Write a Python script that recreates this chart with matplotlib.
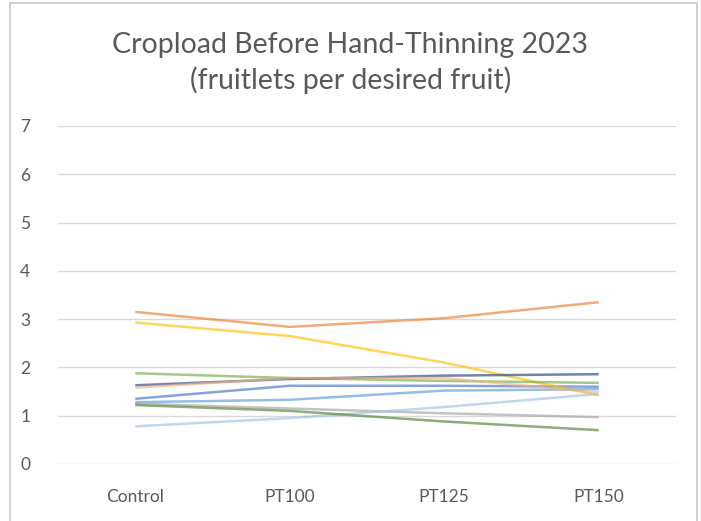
import matplotlib
matplotlib.use("Agg")
import matplotlib.pyplot as plt
from matplotlib.patches import Rectangle

plt.rcParams['font.family'] = ['Lato', 'DejaVu Sans']

categories = ["Control", "PT100", "PT125", "PT150"]

s_blue = [1.35, 1.62, 1.62, 1.60]
s_orange = [3.15, 2.84, 3.02, 3.35]
s_gray = [1.25, 1.15, 1.05, 0.97]
s_gold = [2.93, 2.65, 2.10, 1.42]
s_lightblue = [1.28, 1.33, 1.52, 1.55]
s_green = [1.88, 1.78, 1.72, 1.68]
s_darkblue = [1.63, 1.76, 1.83, 1.86]
s_peach = [1.58, 1.78, 1.78, 1.48]
s_paleblue = [0.78, 0.95, 1.18, 1.45]
s_green2 = [1.22, 1.10, 0.88, 0.70]

series = [
    (s_blue, "#4472C4"),
    (s_orange, "#ED7D31"),
    (s_gray, "#A5A5A5"),
    (s_gold, "#FFC000"),
    (s_lightblue, "#5B9BD5"),
    (s_green, "#70AD47"),
    (s_darkblue, "#264478"),
    (s_peach, "#F4B183"),
    (s_paleblue, "#9DC3E6"),
    (s_green2, "#548235"),
]

yticks = [0, 1, 2, 3, 4, 5, 6, 7]

fig = plt.figure(figsize=(7.01, 5.21), dpi=100)
fig.patch.set_facecolor("white")
ax = fig.add_axes([58 / 701, 1 - 464 / 521, 618 / 701, (464 - 126) / 521])

x = list(range(len(categories)))
for vals, col in series:
    ax.plot(x, vals, color=col, lw=1.8, alpha=0.65, solid_capstyle="butt")

ax.set_xlim(-0.5, len(categories) - 0.5)
ax.set_ylim(0, 7)
ax.set_yticks(yticks)
ax.set_xticks(x)
ax.set_xticklabels(categories)
ax.grid(axis="y", color="#D9D9D9", lw=1)
ax.set_axisbelow(True)
for sp in ax.spines.values():
    sp.set_visible(False)
ax.tick_params(length=0, colors="#595959", labelsize=12.5)
ax.tick_params(axis="y", pad=20)
ax.tick_params(axis="x", pad=18)

fig.text(0.5, 1 - 45 / 521, "Cropload Before Hand-Thinning 2023", ha="center", va="center",
         fontsize=20.5, color="#595959")
fig.text(0.5, 1 - 80 / 521, "(fruitlets per desired fruit)", ha="center", va="center",
         fontsize=20.5, color="#595959")

fig.patches.append(Rectangle((10 / 701, -0.01), 687 / 701, 1 - 3 / 521 + 0.01,
                             transform=fig.transFigure, fill=False,
                             edgecolor="#C8C8C8", lw=1.2))

fig.savefig("out.png", dpi=100)
